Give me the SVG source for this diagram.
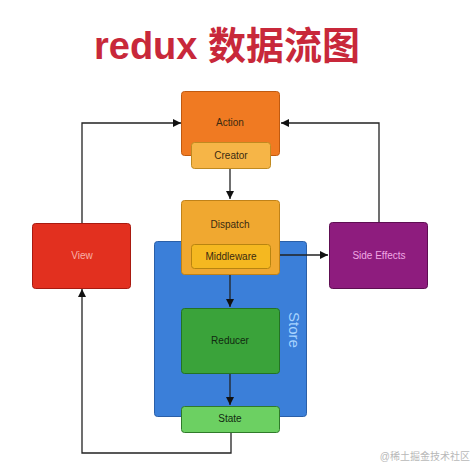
<svg xmlns="http://www.w3.org/2000/svg" width="475" height="474" viewBox="0 0 475 474">
<defs>
<marker id="arr" viewBox="0 0 10 10" refX="10" refY="5" markerWidth="8" markerHeight="8" markerUnits="userSpaceOnUse" orient="auto">
<path d="M0,0 L10,5 L0,10 z" fill="#111"/>
</marker>
</defs>
<style>
.box{stroke-width:1}
.lbl{font-family:"Liberation Sans",Arial,sans-serif;font-size:10px;text-anchor:middle;dominant-baseline:central}
.dark{fill:#3a2a10}
.green{fill:#112a11}
.pink{fill:#f8b0a8}
.violet{fill:#f0a8e4}
.conn{fill:none;stroke:#222;stroke-width:1.3}
</style>
<rect width="475" height="474" fill="#ffffff"/>
<text x="227" y="59" font-family="'Liberation Sans','Noto Sans CJK SC',sans-serif" font-weight="bold" font-size="38" fill="#c8283a" text-anchor="middle">redux 数据流图</text>

<g id="store">
<rect class="box" x="154.500" y="241.500" width="152" height="175" rx="3" fill="#3b7fd9" stroke="#2a5fa8"/>
<text x="294" y="330" transform="rotate(90 294 330)" font-family="'Liberation Sans',Arial,sans-serif" font-size="15" fill="#a8d4ff" text-anchor="middle" dominant-baseline="central">Store</text>
</g>

<g id="connectors">
<path class="conn" d="M230,168 V199" marker-end="url(#arr)"/>
<path class="conn" d="M230,274 V307" marker-end="url(#arr)"/>
<path class="conn" d="M230,373 V405" marker-end="url(#arr)"/>
<path class="conn" d="M231,432 V453 H82 V289" marker-end="url(#arr)"/>
<path class="conn" d="M82,223 V123 H181" marker-end="url(#arr)"/>
<path class="conn" d="M379,222 V123 H281" marker-end="url(#arr)"/>
<path class="conn" d="M270,255 H328" marker-end="url(#arr)"/>
</g>

<g id="action">
<rect class="box" x="181.500" y="91.500" width="98" height="64" rx="3" fill="#f07a22" stroke="#c05a10"/>
<text class="lbl dark" x="230" y="122">Action</text>
</g>
<g id="creator">
<rect class="box" x="191.500" y="142.500" width="79" height="26" rx="3" fill="#f6b547" stroke="#c08a20"/>
<text class="lbl dark" x="231" y="155.500">Creator</text>
</g>

<g id="dispatch">
<rect class="box" x="181.500" y="200.500" width="98" height="74" rx="3" fill="#f0a830" stroke="#c08218"/>
<text class="lbl dark" x="230" y="224">Dispatch</text>
</g>
<g id="middleware">
<rect class="box" x="191.500" y="244.500" width="79" height="24" rx="3" fill="#f5b820" stroke="#b88410"/>
<text class="lbl dark" x="231" y="256.500">Middleware</text>
</g>

<g id="reducer">
<rect class="box" x="181.500" y="308.500" width="98" height="65" rx="3" fill="#3aa33a" stroke="#237323"/>
<text class="lbl green" x="230" y="340">Reducer</text>
</g>
<g id="state">
<rect class="box" x="181.500" y="406.500" width="98" height="26" rx="3" fill="#6cd062" stroke="#2f7a2a"/>
<text class="lbl green" x="230" y="418">State</text>
</g>

<g id="view">
<rect class="box" x="32.500" y="223.500" width="98" height="65" rx="3" fill="#e2301f" stroke="#a81a10"/>
<text class="lbl pink" x="82" y="255">View</text>
</g>

<g id="side-effects">
<rect class="box" x="329.500" y="222.500" width="98" height="66" rx="3" fill="#8e1c7e" stroke="#5e0e52"/>
<text class="lbl violet" x="379" y="255">Side Effects</text>
</g>

<text x="470" y="460" font-family="'Liberation Sans','Noto Sans CJK SC',sans-serif" font-size="10" fill="#b8b8b8" text-anchor="end">@稀土掘金技术社区</text>
</svg>
